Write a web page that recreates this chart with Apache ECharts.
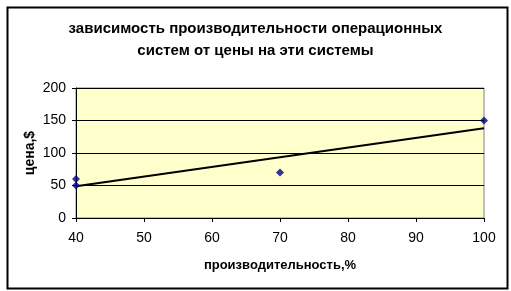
<!DOCTYPE html>
<html><head><meta charset="utf-8">
<script src="https://cdn.jsdelivr.net/npm/echarts@6/dist/echarts.min.js"></script>
<style>html,body{margin:0;padding:0;background:#fff}#c{width:511px;height:291px}</style>
</head><body><div id="c"></div>
<script>
const titleText = 'зависимость производительности операционных\nсистем от цены на эти системы';
const xName = 'производительность,%';
const yName = 'цена,$';
const pointsX = [40, 40, 70, 100];
const pointsY = [60, 50, 70, 150];
const trendX = [40, 100];
const trendY = [49, 138];

const chart = echarts.init(document.getElementById('c'), null, {renderer: 'canvas'});
const font = 'Liberation Sans, Arial, sans-serif';
chart.setOption({
  animation: false,
  backgroundColor: '#fff',
  title: {
    text: titleText, left: 'center', top: 13,
    textStyle: {fontFamily: font, fontSize: 15, fontWeight: 'bold', color: '#000', lineHeight: 22}
  },
  grid: {left: 76, right: 27, top: 88, bottom: 73, show: true, backgroundColor: '#FFFFCC', borderColor: '#808080', borderWidth: 1},
  xAxis: {
    type: 'value', min: 40, max: 100, interval: 10,
    name: xName, nameLocation: 'middle', nameGap: 41,
    nameTextStyle: {fontFamily: font, fontSize: 13, fontWeight: 'bold', color: '#000'},
    axisLine: {lineStyle: {color: '#000', width: 1}},
    axisTick: {show: true, inside: false, length: 4, lineStyle: {color: '#000'}},
    axisLabel: {fontFamily: font, fontSize: 14, color: '#000', margin: 13},
    splitLine: {show: false}
  },
  yAxis: {
    type: 'value', min: 0, max: 200, interval: 50,
    name: yName, nameLocation: 'middle', nameGap: 46, nameRotate: 90, nameMoveOverlap: false,
    nameTextStyle: {fontFamily: font, fontSize: 14, fontWeight: 'bold', color: '#000', verticalAlign: 'middle'},
    axisLine: {show: true, lineStyle: {color: '#000', width: 1}},
    axisTick: {show: true, inside: false, length: 4, lineStyle: {color: '#000'}},
    axisLabel: {fontFamily: font, fontSize: 14, color: '#000', margin: 10},
    splitLine: {show: true, lineStyle: {color: '#000', width: 1}}
  },
  series: [
    {
      type: 'line', data: trendX.map((x, i) => [x, trendY[i]]),
      symbol: 'none', lineStyle: {color: '#000', width: 2}, z: 3
    },
    {
      type: 'scatter', data: pointsX.map((x, i) => [x, pointsY[i]]),
      symbol: 'diamond', symbolSize: 8, itemStyle: {color: '#000080'}, z: 4, clip: false
    }
  ],
  graphic: [{
    type: 'rect', left: 5, top: 5, shape: {x: 0, y: 0, width: 500, height: 281},
    style: {fill: 'none', stroke: '#000', lineWidth: 2}, z: 100
  }]
});
</script></body></html>
